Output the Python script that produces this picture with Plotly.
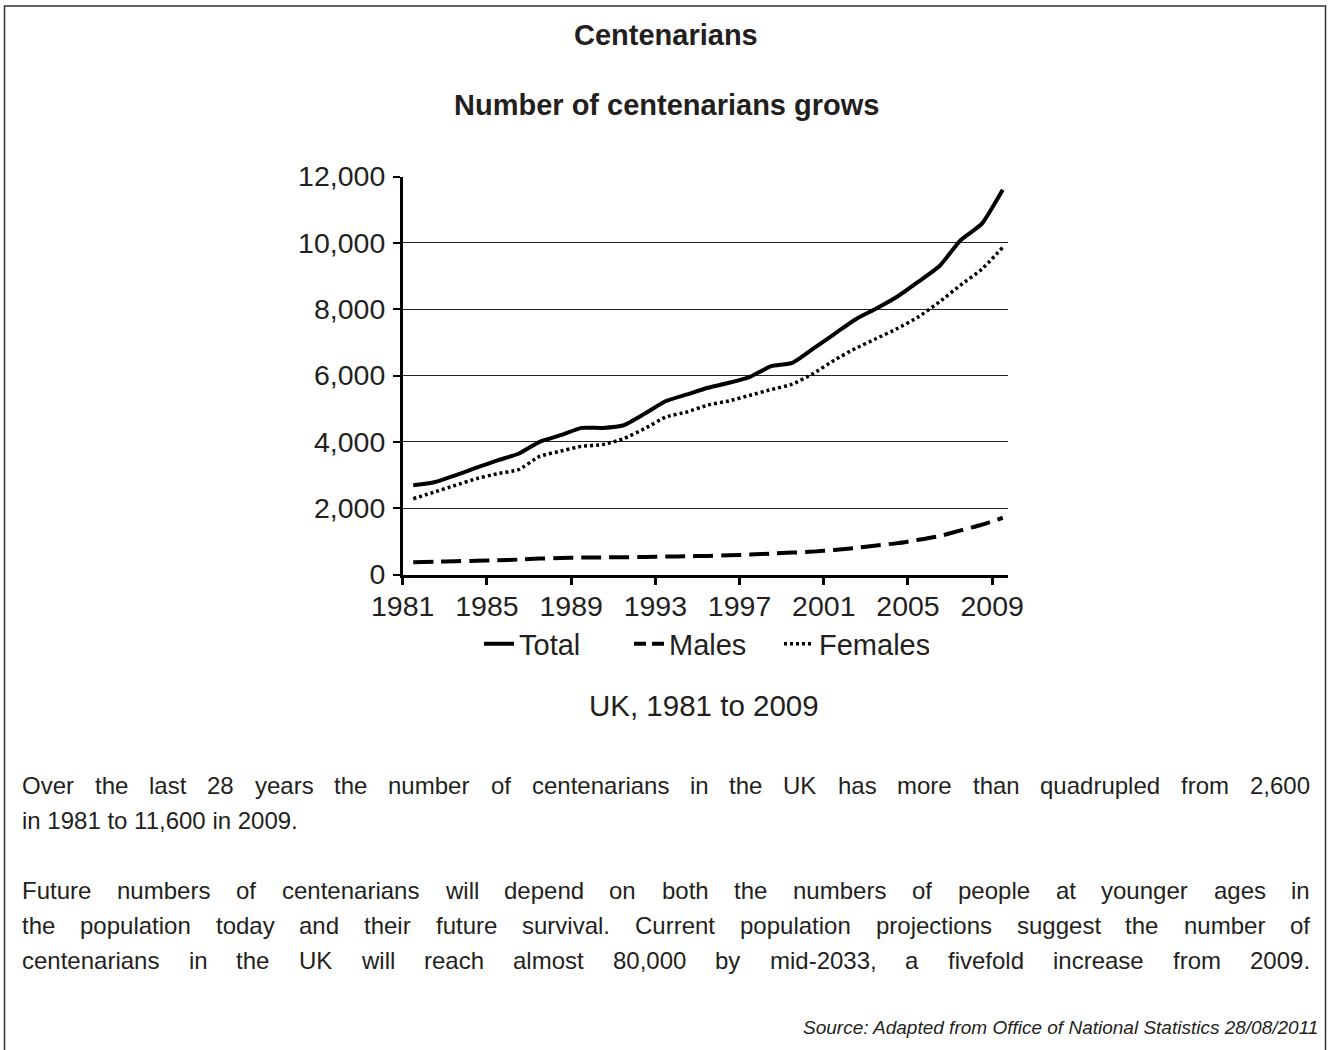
import plotly.graph_objects as go

years = list(range(1981, 2010))
total = [2690, 2780, 2990, 3220, 3440, 3640, 4000, 4200, 4420, 4420, 4500, 4850, 5230, 5430, 5630,
         5780, 5960, 6280, 6380, 6810, 7250, 7690, 8020, 8380, 8830, 9300, 10080, 10570, 11600]
females = [2285, 2486, 2688, 2889, 3040, 3160, 3560, 3720, 3865, 3915, 4100, 4400, 4750, 4900, 5110,
           5234, 5405, 5576, 5737, 6059, 6462, 6814, 7116, 7418, 7770, 8223, 8727, 9200, 9864]
males = [370, 385, 400, 415, 430, 450, 480, 500, 510, 515, 520, 530, 540, 550, 560,
         580, 600, 630, 660, 690, 740, 800, 876, 946, 1047, 1160, 1330, 1500, 1711]
tick_years = [1981, 1985, 1989, 1993, 1997, 2001, 2005, 2009]
y_ticks = [0, 2000, 4000, 6000, 8000, 10000, 12000]

W, H = 1330, 1050
FONT = "Liberation Sans, Arial, Helvetica, sans-serif"
TXT = "#231f20"

def px(x):
    return x / W

def py(y):
    return 1 - y / H

fig = go.Figure()
fig.add_trace(go.Scatter(x=years, y=total, name="Total", mode="lines",
                         line=dict(color="black", width=4, shape="spline", smoothing=0.5)))
# legend entry for Males (shorter dash so that the legend swatch shows two dashes)
fig.add_trace(go.Scatter(x=[None], y=[None], name="Males", mode="lines", hoverinfo="skip",
                         line=dict(color="black", width=4, dash="12px,6px")))
fig.add_trace(go.Scatter(x=years, y=females, name="Females", mode="lines",
                         line=dict(color="black", width=3.5, dash="3px,3px", shape="spline", smoothing=0.5)))
fig.add_trace(go.Scatter(x=years, y=males, name="Males", mode="lines", showlegend=False,
                         line=dict(color="black", width=4, dash="20px,8px", shape="spline", smoothing=0.5)))

fig.update_layout(
    width=W, height=H,
    margin=dict(l=0, r=0, t=0, b=0, pad=0, autoexpand=False),
    paper_bgcolor="white", plot_bgcolor="white",
    font=dict(family=FONT, color=TXT, size=26),
    showlegend=True,
    legend=dict(orientation="h", x=px(704), xanchor="center", y=py(644), yanchor="middle",
                font=dict(size=29, color=TXT), tracegroupgap=0, entrywidth=105,
                bgcolor="rgba(0,0,0,0)"),
    xaxis=dict(domain=[px(402.7), px(1008)], range=[1980.5, 2009.25],
               tickvals=[t - 0.5 for t in tick_years], ticktext=[str(t) for t in tick_years],
               showgrid=False, zeroline=False, showline=True, linecolor="black", linewidth=2.5,
               ticks="outside", ticklen=8, tickwidth=2.5, tickcolor="black",
               tickfont=dict(size=28.5, color=TXT), ticklabelstandoff=-3, anchor="y", automargin=False),
    yaxis=dict(domain=[py(574.5), py(176.5)], range=[0, 12000],
               tickvals=y_ticks, tickformat=",", showgrid=True, gridcolor="#222", gridwidth=1.2,
               zeroline=False, showline=True, linecolor="black", linewidth=2.5,
               ticks="outside", ticklen=7, tickwidth=2, tickcolor="black",
               tickfont=dict(size=28.5, color=TXT), ticklabelstandoff=2, anchor="x", automargin=False),
)

# Arial / Liberation Sans advance widths (per 1000 em) used to justify the paragraph lines
AW = {' ': 278, ',': 278, '.': 278, '-': 333, '/': 278}
AW.update({d: 556 for d in "0123456789"})
AW.update(dict(A=667, B=667, C=722, D=722, E=667, F=611, G=778, H=722, I=278, J=500, K=667, L=556,
               M=833, N=722, O=778, P=667, Q=778, R=722, S=667, T=611, U=722, V=667, W=944, X=667,
               Y=667, Z=611))
AW.update(dict(a=556, b=556, c=500, d=556, e=556, f=278, g=556, h=556, i=222, j=222, k=500, l=222,
               m=833, n=556, o=556, p=556, q=556, r=333, s=500, t=278, u=556, v=500, w=722, x=500,
               y=500, z=500))

def text_w(s, size):
    return sum(AW.get(c, 556) for c in s) * size / 1000.0

ann = []
ann.append(dict(text="<b>Centenarians</b>", x=px(666), y=py(35), font=dict(size=29)))
ann.append(dict(text="<b>Number of centenarians grows</b>", x=px(666), y=py(105), font=dict(size=29)))
ann.append(dict(text="UK, 1981 to 2009", x=px(704), y=py(705), font=dict(size=29.5)))

PARA_SIZE = 24
LEFT, RIGHT = 22, 1310
para = [
    ("Over the last 28 years the number of centenarians in the UK has more than quadrupled from 2,600", 785, True),
    ("in 1981 to 11,600 in 2009.", 820, False),
    ("Future numbers of centenarians will depend on both the numbers of people at younger ages in", 890, True),
    ("the population today and their future survival. Current population projections suggest the number of", 925, True),
    ("centenarians in the UK will reach almost 80,000 by mid-2033, a fivefold increase from 2009.", 960, True),
]
for t, yy, justify in para:
    if not justify:
        ann.append(dict(text=t, x=px(LEFT), y=py(yy), xanchor="left", font=dict(size=PARA_SIZE)))
        continue
    words = t.split(" ")
    widths = [text_w(w, PARA_SIZE) for w in words]
    gap = (RIGHT - LEFT - sum(widths)) / (len(words) - 1)
    xx = LEFT
    for w, ww in zip(words, widths):
        ann.append(dict(text=w, x=px(xx), y=py(yy), xanchor="left", font=dict(size=PARA_SIZE)))
        xx += ww + gap

ann.append(dict(text="<i>Source: Adapted from Office of National Statistics 28/08/2011</i>",
                x=px(1318), y=py(1027), xanchor="right", font=dict(size=19)))

for a in ann:
    a.setdefault("xanchor", "center")
    a.update(xref="paper", yref="paper", showarrow=False, yanchor="middle",
             borderpad=0, borderwidth=0)
    a["font"] = dict(family=FONT, color=TXT, **a["font"])
fig.update_layout(annotations=ann)

fig.add_shape(type="rect", xref="paper", yref="paper", x0=px(4.5), x1=px(1325.5), y0=-0.02, y1=py(6),
              line=dict(color="#333", width=1.5), fillcolor="rgba(0,0,0,0)")

fig.write_html("out.html", config={"displayModeBar": False},
               post_script="document.body.style.margin='0';document.body.style.overflow='hidden';")
